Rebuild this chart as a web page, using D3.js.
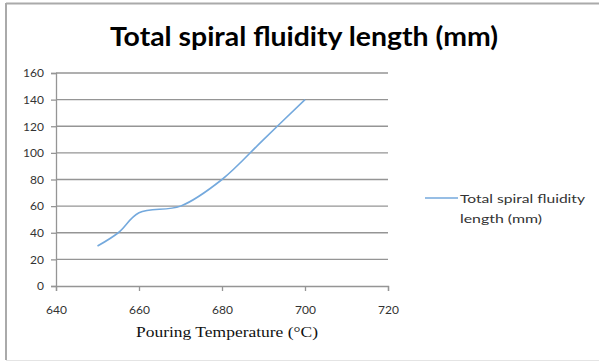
<!DOCTYPE html>
<html><head><meta charset="utf-8">
<script src="https://cdn.jsdelivr.net/npm/d3@7"></script>
<style>body{margin:0;background:#fff;}svg{display:block;}</style>
</head><body>
<svg id="c" width="599" height="362"></svg>
<script>
const temperatures = [650, 655, 660, 670, 680, 690, 700];
const lengths = [30, 40, 55, 60, 80, 110, 140];
const xTicks = [640, 660, 680, 700, 720];
const yTicks = [0, 20, 40, 60, 80, 100, 120, 140, 160];
const seriesName = "Total spiral fluidity length (mm)";
const titleText = "Total spiral fluidity length (mm)";
const xTitle = "Pouring Temperature (\u00B0C)";

const svg = d3.select("#c");
// outer border
svg.append("line").attr("x1",6).attr("x2",6).attr("y1",3).attr("y2",360).attr("stroke","#aaa").attr("stroke-width",2);
svg.append("line").attr("x1",6).attr("x2",599).attr("y1",3.5).attr("y2",3.5).attr("stroke","#aaa").attr("stroke-width",2);
svg.append("line").attr("x1",6).attr("x2",599).attr("y1",360.5).attr("y2",360.5).attr("stroke","#e4e4e4").attr("stroke-width",1);

const x = d3.scaleLinear().domain([640,720]).range([56,388]);
const y = d3.scaleLinear().domain([0,160]).range([286,73]);

// gridlines
svg.append("g").selectAll("line").data(yTicks.filter(d=>d>0)).join("line")
  .attr("x1",56).attr("x2",388).attr("y1",d=>y(d)).attr("y2",d=>y(d))
  .attr("stroke","#959595").attr("stroke-width",1.3);

// y axis
const ya = svg.append("g").attr("transform","translate(56,0)")
  .call(d3.axisLeft(y).tickValues(yTicks).tickSize(5).tickPadding(7));
ya.select(".domain").attr("stroke","#959595").attr("stroke-width",1.3);
ya.selectAll(".tick line").attr("stroke","#959595").attr("stroke-width",1.3);
ya.selectAll("text").attr("font-family","Lato, 'Open Sans', sans-serif").attr("font-size",12).attr("fill","#333");

// x axis
const xa = svg.append("g").attr("transform","translate(0,286)")
  .call(d3.axisBottom(x).tickValues(xTicks).tickSize(5).tickPadding(14));
xa.select(".domain").attr("stroke","#959595").attr("stroke-width",1.3);
xa.selectAll(".tick line").attr("stroke","#959595").attr("stroke-width",1.3);
xa.selectAll("text").attr("font-family","Lato, 'Open Sans', sans-serif").attr("font-size",12).attr("fill","#333");

// line
const line = d3.line().x((d,i)=>x(temperatures[i])).y(d=>y(d)).curve(d3.curveCatmullRom.alpha(0.5));
svg.append("path").datum(lengths).attr("d",line).attr("fill","none")
  .attr("stroke","#74A9DD").attr("stroke-width",1.6);

// title
svg.append("text").attr("x",304).attr("y",46).attr("text-anchor","middle")
  .attr("font-family","Lato, 'Open Sans', sans-serif").attr("font-weight","bold").attr("font-size",26)
  .attr("textLength",388).attr("lengthAdjust","spacingAndGlyphs")
  .attr("fill","#000").text(titleText);

// x axis title
svg.append("text").attr("x",227).attr("y",337).attr("text-anchor","middle")
  .attr("font-family","'Liberation Serif', 'DejaVu Serif', serif").attr("font-size",15)
  .attr("textLength",182).attr("lengthAdjust","spacingAndGlyphs")
  .attr("fill","#111").text(xTitle);

// legend
svg.append("line").attr("x1",425).attr("x2",458).attr("y1",198).attr("y2",198)
  .attr("stroke","#74A9DD").attr("stroke-width",1.6);
const words = seriesName.split(" ");
const legLines = [words.slice(0,3).join(" "), words.slice(3).join(" ")];
const legW = [125, 82];
svg.append("g").selectAll("text").data(legLines).join("text")
  .attr("x",460).attr("y",(d,i)=>203+i*20)
  .attr("font-family","Lato, 'Open Sans', sans-serif").attr("font-size",12)
  .attr("textLength",(d,i)=>legW[i]).attr("lengthAdjust","spacingAndGlyphs")
  .attr("fill","#333").text(d=>d);
</script>
</body></html>
